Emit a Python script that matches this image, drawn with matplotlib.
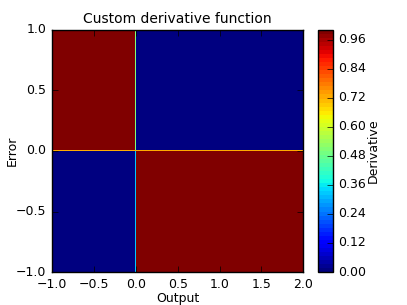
import matplotlib
matplotlib.use("Agg")
import matplotlib.pyplot as plt

plt.style.use("classic")

# cell edges along output / error and the derivative in each cell
output_edges = [-1.0, -0.006, 0.006, 2.0]
error_edges = [-1.0, -0.004, 0.004, 1.0]
derivative = [
    [0.0, 0.33, 1.0],
    [0.72, 0.72, 0.72],
    [1.0, 0.5, 0.0],
]
cbar_ticks = [0.00, 0.12, 0.24, 0.36, 0.48, 0.60, 0.72, 0.84, 0.96]

fig = plt.figure(figsize=(4.07, 3.05), dpi=100)
ax = fig.add_axes([0.128, 0.108, 0.617, 0.794])
cax = fig.add_axes([0.781, 0.108, 0.037, 0.794])

mesh = ax.pcolormesh(output_edges, error_edges, derivative,
                     cmap=plt.get_cmap("jet", 60), vmin=0, vmax=1)
ax.set_xlim(-1, 2)
ax.set_ylim(-1, 1)
ax.set_xticks([-1.0, -0.5, 0.0, 0.5, 1.0, 1.5, 2.0])
ax.set_yticks([-1.0, -0.5, 0.0, 0.5, 1.0])
ax.tick_params(labelsize=9)
ax.set_xlabel("Output", fontsize=9, labelpad=1)
ax.set_ylabel("Error", fontsize=9, labelpad=-2)
ax.set_title("Custom derivative function", fontsize=10)

cb = fig.colorbar(mesh, cax=cax, ticks=cbar_ticks)
cb.ax.tick_params(labelsize=9)
cb.set_label("Derivative", fontsize=9, labelpad=0)

fig.savefig("out.png", dpi=100)
